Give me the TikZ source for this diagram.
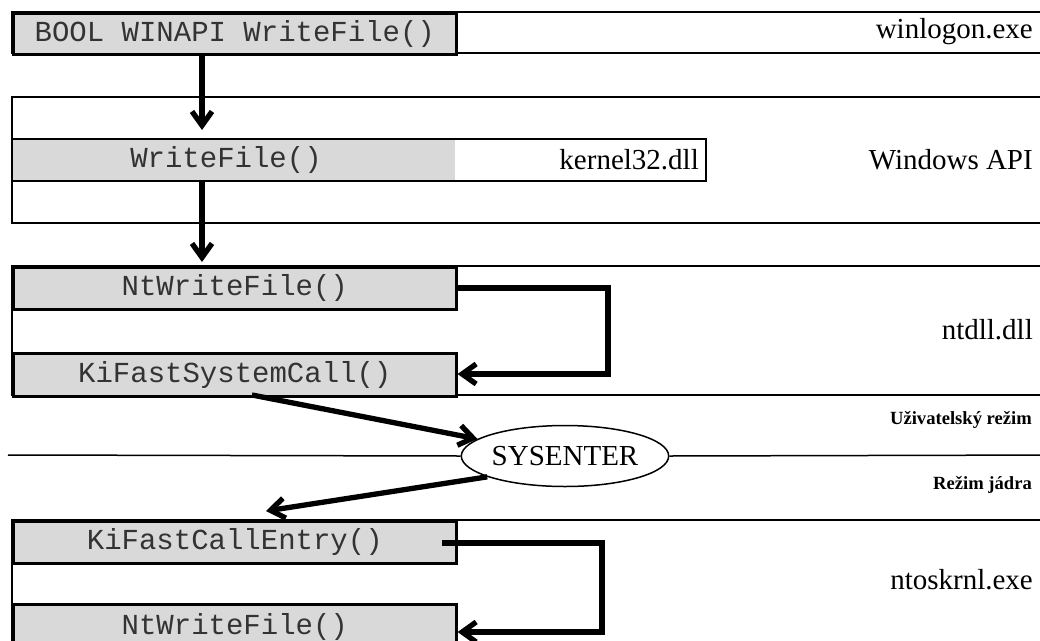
\documentclass[tikz,border=0pt]{standalone}
\usepackage{fontspec}
\setmainfont{Liberation Serif}
\setmonofont{Liberation Mono}
\usetikzlibrary{arrows.meta,shapes.geometric}
\definecolor{cellgray}{HTML}{D9D9D9}
\definecolor{codegray}{HTML}{333333}
\begin{document}
\begin{tikzpicture}[x=1pt,y=-1pt,
  frame/.style={draw=black,line width=2.6pt},
  cell/.style={draw=black,line width=2.6pt,fill=cellgray,inner sep=0pt,anchor=north west,
    minimum width=443pt,minimum height=42pt,text=codegray,font=\fontsize{29}{32}\selectfont\ttfamily},
  lbl/.style={anchor=east,inner sep=0pt,font=\fontsize{29}{32}\selectfont},
  mode/.style={anchor=east,inner sep=0pt,font=\fontsize{18.6}{20}\selectfont\bfseries},
  tipst/.style={-{Straight Barb[length=14pt,width=20pt,line width=0pt 1]}},
  flow/.style={line width=5.3pt,tipst},
  flowj/.style={line width=5.3pt,line join=miter,tipst}]
\useasboundingbox (0,0) rectangle (1040,640);
% row 1 : winlogon.exe
\draw[frame] (12,12) rectangle (1060,53);
\node[cell,minimum height=41pt] (bool) at (12,12) {BOOL WINAPI WriteFile()};
\node[lbl] (winlogon) at (1033,32) {winlogon.exe};
% row 2 : Windows API
\draw[frame] (12,97) rectangle (1060,223);
\fill[cellgray] (12,139) rectangle (455,181);
\draw[frame] (12,139) rectangle (706,181);
\node[inner sep=0pt,text=codegray,font=\fontsize{29}{32}\selectfont\ttfamily] (wf) at (226,160) {WriteFile()};
\node[lbl] (k32) at (699,160) {kernel32.dll};
\node[lbl] (winapi) at (1033,160) {Windows API};
% row 3 : ntdll.dll
\draw[frame] (12,266) rectangle (1060,395);
\node[cell] (ntw) at (12,266) {NtWriteFile()};
\node[cell,minimum height=43pt] (kifs) at (12,352) {KiFastSystemCall()};
\node[lbl] (ntdll) at (1033,330) {ntdll.dll};
% mode line
\node[mode] (user) at (1032,420) {Uživatelský režim};
\node[mode] (kern) at (1032,485) {Režim jádra};
\node[ellipse,draw=black,line width=1.5pt,fill=white,minimum width=203pt,minimum height=61pt,inner sep=0pt,
  font=\fontsize{29}{32}\selectfont] (sys) at (565,456) {SYSENTER};
\coordinate (lineL) at (8,455);
\coordinate (lineR) at (1060,455);
\draw[line width=1.5pt] (lineL) -- (sys.west);
\draw[line width=1.5pt] (sys.east) -- (lineR);
% row 4 : ntoskrnl.exe
\draw[frame] (12,520) rectangle (1060,700);
\node[cell] (kifce) at (12,520) {KiFastCallEntry()};
\node[cell,minimum height=45pt] (ntw2) at (12,603) {NtWriteFile()};
\node[lbl] (ntos) at (1033,580) {ntoskrnl.exe};
% arrows
\coordinate (a1s) at (202,53);
\coordinate (a1e) at (202,130);
\draw[flow] (a1s) -- (a1e);
\coordinate (a2s) at (202,181);
\coordinate (a2e) at (202,262);
\draw[flow] (a2s) -- (a2e);
\coordinate (b1) at (608,288);
\coordinate (b2) at (608,374);
\draw[flowj] (ntw.east |- b1) -- (b1) -- (b2) -- (kifs.east |- b2);
\coordinate (c0) at (442,543);
\coordinate (c1) at (602,543);
\coordinate (c2) at (602,632);
\draw[flowj] (c0) -- (c1) -- (c2) -- (ntw2.east |- c2);
\coordinate (d0) at (252,395);
\draw[flow] (d0) -- (sys);
\coordinate (e1) at (266,511);
\draw[flow] (sys.195) -- (e1);
\end{tikzpicture}
\end{document}
